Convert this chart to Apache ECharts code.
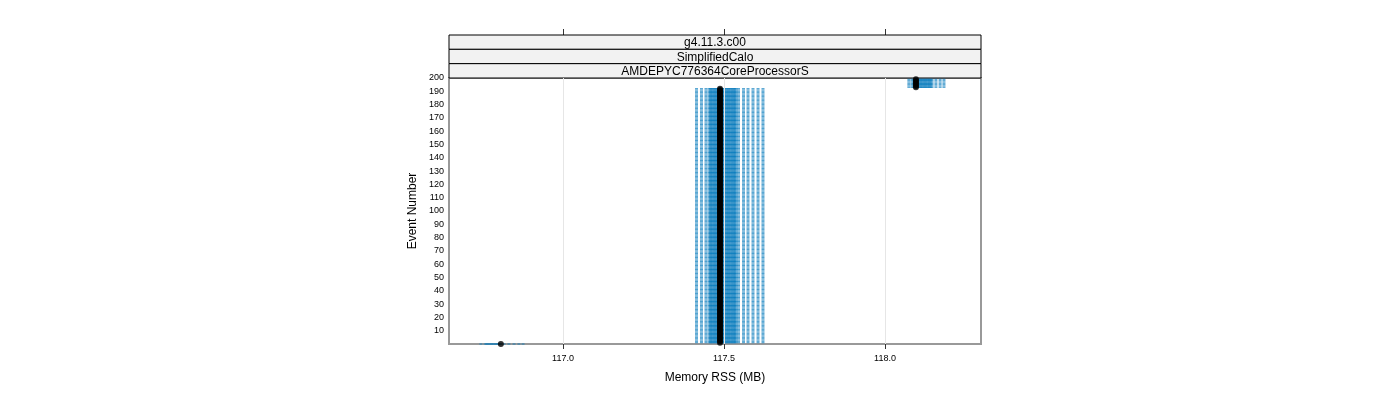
<!DOCTYPE html>
<html>
<head>
<meta charset="utf-8">
<script src="https://cdn.jsdelivr.net/npm/echarts@6/dist/echarts.min.js"></script>
<style>
html,body{margin:0;padding:0;background:#fff;}
#chart{width:1400px;height:400px;}
</style>
</head>
<body>
<div id="chart"></div>
<script>
// ---- data ----
const stripLabels = ['g4.11.3.c00', 'SimplifiedCalo', 'AMDEPYC776364CoreProcessorS'];
const xTickValues = [117.0, 117.5, 118.0];
const yTickValues = [10, 20, 30, 40, 50, 60, 70, 80, 90, 100, 110, 120, 130, 140, 150, 160, 170, 180, 190, 200];

// event ranges of the three memory levels
const clusterFirstEvent = [0, 1, 193];
const clusterLastEvent = [0, 192, 199];
// per-event median memory RSS (MB) for each level
const clusterMedianRSS = [116.807, 117.4876, 118.096];
// individual RSS samples (MB) seen for each event of a level
const lowSamplesRSS = [116.745, 116.758, 116.762, 116.766, 116.770, 116.774, 116.778, 116.782, 116.786,
  116.790, 116.794, 116.798, 116.802, 116.806, 116.817, 116.832, 116.848, 116.863, 116.876];
const midSamplesRSS = [117.4146, 117.430, 117.444, 117.454, 117.458, 117.462, 117.466, 117.470, 117.474,
  117.478, 117.482, 117.486, 117.490, 117.494, 117.498, 117.502, 117.506, 117.510, 117.514, 117.518,
  117.522, 117.526, 117.530, 117.534, 117.537, 117.545, 117.5606, 117.5745, 117.590, 117.6056, 117.621];
const highSamplesRSS = [118.074, 118.084, 118.090, 118.094, 118.098, 118.102, 118.106, 118.110, 118.114,
  118.118, 118.122, 118.126, 118.130, 118.134, 118.138, 118.142, 118.146, 118.158, 118.171, 118.183];

// ---- build series data ----
const clusterSamples = [lowSamplesRSS, midSamplesRSS, highSamplesRSS];
const sampleData = [];
const medianData = [];
for (let c = 0; c < clusterFirstEvent.length; c++) {
  for (let ev = clusterFirstEvent[c]; ev <= clusterLastEvent[c]; ev++) {
    clusterSamples[c].forEach(v => sampleData.push([v, ev]));
    medianData.push([clusterMedianRSS[c], ev]);
  }
}

const FONT = 'Liberation Sans, Arial, sans-serif';
const gridLeft = 449, gridTop = 78, gridW = 532, gridH = 266;
const stripH = 43 / 3;

const graphics = [];
stripLabels.forEach((lab, i) => {
  const y = gridTop - (stripLabels.length - i) * stripH;
  graphics.push({
    type: 'rect', z: 10,
    shape: { x: gridLeft, y: y, width: gridW, height: stripH },
    style: { fill: '#f2f2f2', stroke: '#000', lineWidth: 1 }
  });
  graphics.push({
    type: 'text', z: 11,
    x: gridLeft + gridW / 2, y: y + stripH / 2 + 0.8,
    style: { text: lab, fontFamily: FONT, fontSize: 12, fill: '#000', align: 'center', verticalAlign: 'middle' }
  });
});
graphics.push({
  type: 'text', x: gridLeft + gridW / 2, y: 378,
  style: { text: 'Memory RSS (MB)', fontFamily: FONT, fontSize: 12, fill: '#000', align: 'center', verticalAlign: 'middle' }
});
graphics.push({
  type: 'text', x: 413, y: gridTop + gridH / 2, rotation: Math.PI / 2,
  style: { text: 'Event Number', fontFamily: FONT, fontSize: 12, fill: '#000', align: 'center', verticalAlign: 'middle' }
});

const chart = echarts.init(document.getElementById('chart'), null, { renderer: 'canvas' });
chart.setOption({
  animation: false,
  backgroundColor: '#fff',
  textStyle: { fontFamily: FONT },
  grid: { left: gridLeft, top: gridTop, width: gridW, height: gridH, show: true,
          borderColor: '#999', borderWidth: 2, backgroundColor: 'transparent' },
  xAxis: [{
    type: 'value', position: 'bottom', min: 116.646, max: 118.298,
    axisLine: { show: false },
    axisTick: { show: true, length: 5, lineStyle: { color: '#333' }, customValues: xTickValues },
    axisLabel: { color: '#000', fontSize: 9, margin: 10, customValues: xTickValues,
                 formatter: v => Number(v).toFixed(1) },
    splitLine: { show: false }
  }, {
    type: 'value', position: 'top', offset: 43, min: 116.646, max: 118.298,
    axisLine: { show: false },
    axisTick: { show: true, length: 6, lineStyle: { color: '#333' }, customValues: xTickValues },
    axisLabel: { show: false },
    splitLine: { show: false }
  }],
  yAxis: {
    type: 'value', min: 0, max: 200, interval: 10,
    axisLine: { show: false },
    axisTick: { show: false },
    axisLabel: { color: '#000', fontSize: 9, margin: 5, customValues: yTickValues,
                 verticalAlign: 'middle', padding: [2, 0, 0, 0] },
    splitLine: { show: false }
  },
  graphic: graphics,
  series: [{
    type: 'scatter', name: 'samples', xAxisIndex: 0,
    data: sampleData,
    symbol: 'rect', symbolSize: [3, 1.1],
    itemStyle: { color: '#0077bb', opacity: 0.7 },
    silent: true,
    markLine: {
      silent: true, symbol: 'none', label: { show: false },
      lineStyle: { color: '#e6e6e6', width: 1, type: 'solid' },
      data: xTickValues.map(v => ({ xAxis: v })),
      z: 1
    }
  }, {
    type: 'scatter', name: 'median', xAxisIndex: 0,
    data: medianData,
    symbol: 'circle', symbolSize: 6,
    itemStyle: { color: '#000' },
    silent: true, z: 3
  }]
});
</script>
</body>
</html>
